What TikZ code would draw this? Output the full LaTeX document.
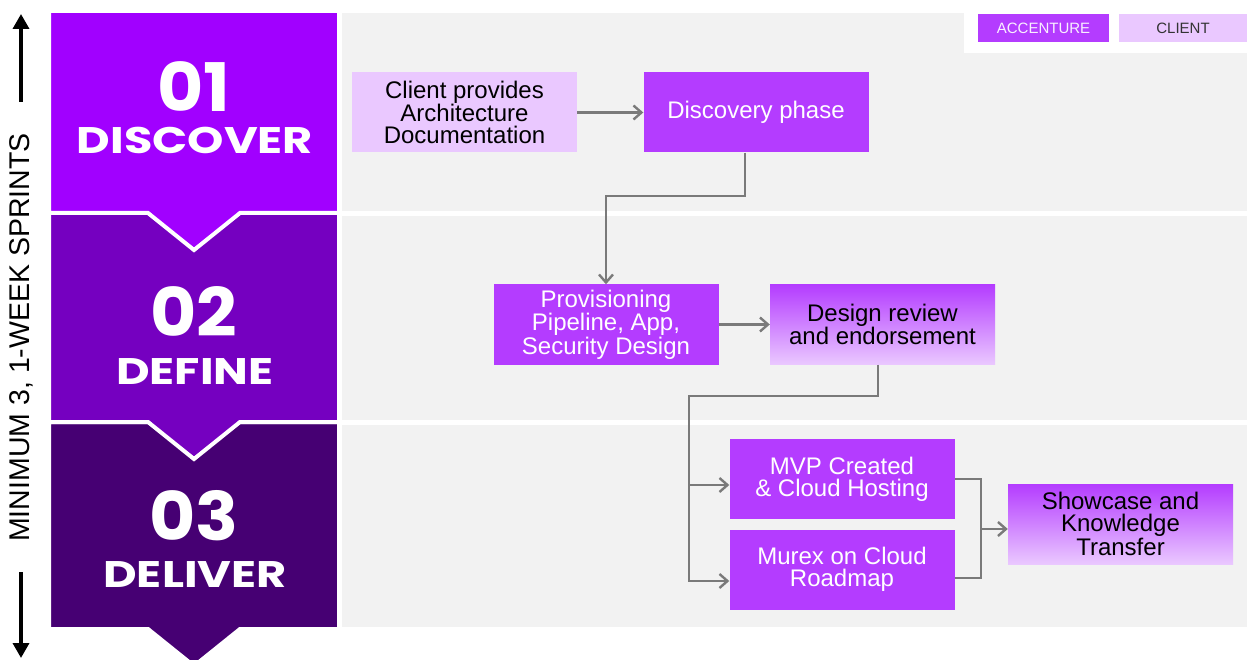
\documentclass[tikz,border=0pt]{standalone}
\usepackage{graphicx}
\usepackage{fontspec}
\setmainfont{Liberation Sans}
\newfontfamily\phasefont{Poppins}
\usetikzlibrary{arrows.meta}

\definecolor{discpurple}{HTML}{A100FF}
\definecolor{defpurple}{HTML}{7500C0}
\definecolor{delpurple}{HTML}{460073}
\definecolor{accpurple}{HTML}{B43CFF}
\definecolor{clientlilac}{HTML}{EAC8FF}
\definecolor{panelgray}{HTML}{F2F2F2}
\definecolor{linkgray}{HTML}{7A7A7A}

\tikzset{
  flowbox/.style={minimum width=225pt, minimum height=80pt, inner sep=0pt, align=center,
    font=\fontsize{24}{22}\selectfont},
  accbox/.style={flowbox, fill=accpurple, text=white},
  clientbox/.style={flowbox, fill=clientlilac, text=black},
  fadebox/.style={flowbox, top color=accpurple, bottom color=clientlilac, text=black},
  legendbox/.style={minimum height=28pt, inner sep=0pt, font=\fontsize{15}{15}\selectfont},
  plainlink/.style={draw=linkgray, line width=2.4pt},
  link/.style={plainlink, -{Straight Barb[length=8pt,width=14pt]}},
  sprintarrow/.style={line width=3.5pt, -{Triangle[length=15pt,width=16pt]}},
}

\begin{document}
\begin{tikzpicture}[x=1pt,y=-1pt]
\useasboundingbox (0,0) rectangle (1247,660);
% grey lanes
\foreach \ytop/\ybot in {13/211, 216/420, 425/627}
  \fill[panelgray] (342,\ytop) rectangle (1247,\ybot);
\fill[white] (964,0) rectangle (1247,53);
\node[legendbox, minimum width=131pt, fill=accpurple, text=white!92!accpurple] (legacc) at (1043.5,28) {ACCENTURE};
\node[legendbox, minimum width=128pt, fill=clientlilac, text=black!80] (legcli) at (1183,28) {CLIENT};

% phase chevrons, drawn from the bottom up
\foreach \ytop/\ybot/\col/\pnum/\pname/\ny/\nmy in {422/629/delpurple/03/DELIVER/517/575,
    213/422/defpurple/02/DEFINE/313/371.5, 11/213/discpurple/01/DISCOVER/88/140} {
  \filldraw[fill=\col, draw=white, line width=4pt]
    (49,\ytop) -- (339,\ytop) -- (339,\ybot) -- (240,\ybot) -- (194,{\ybot+37}) -- (148,\ybot) -- (49,\ybot) -- cycle;
  \node[text=white, inner sep=0pt, text height=47pt, text depth=0pt,
    font=\phasefont\bfseries\fontsize{67}{67}\selectfont] (num-\pnum) at (194,\ny) {\scalebox{1.06}[1]{\pnum}};
  \node[text=white, inner sep=0pt, font=\phasefont\bfseries\fontsize{37}{37}\selectfont] (name-\pnum) at (195,\nmy) {\scalebox{1.25}[1]{\pname}};
}

\coordinate (uptip) at (21,14);
\coordinate (upfoot) at (21,102);
\coordinate (downfoot) at (21,572);
\coordinate (downtip) at (21,658);
\draw[sprintarrow] (upfoot) -- (uptip);
\draw[sprintarrow] (downfoot) -- (downtip);
\node[rotate=90, inner sep=0pt, font=\fontsize{28.5}{28.5}\selectfont] (sprints) at (21.5,337.5) {MINIMUM 3, 1-WEEK SPRINTS};

% flow
\node[clientbox] (client) at (464.5,112.5) {Client provides\\Architecture\\Documentation};
\node[accbox] (disc) at (756,112.5) {Discovery phase};
\node[accbox] (prov) at (606,324.5) {Provisioning\\Pipeline, App,\\Security Design};
\node[fadebox] (design) at (882.5,324.5) {Design review\\and endorsement};
\node[accbox] (mvp) at (842,479) {MVP Created\\\& Cloud Hosting};
\node[accbox] (murex) at (842,569.5) {Murex on Cloud\\Roadmap};
\node[fadebox] (show) at (1120.5,524) {Showcase and\\Knowledge\\Transfer};

\coordinate (bend1) at (606,196);
\coordinate (split) at (689,396);
\coordinate (mvpin) at ([yshift=-6pt]mvp.west);
\coordinate (merge) at (981,529);
\draw[link] (client) -- (disc);
\draw[link] ([xshift=-11pt]disc.south) |- (bend1) -- (prov.north);
\draw[link] (prov) -- (design);
\draw[link] ([xshift=-4.5pt]design.south) |- (split) |- ([yshift=-11.5pt]murex.west);
\draw[link] (split |- mvpin) -- (mvpin);
\draw[plainlink] (mvp.east) -| (merge);
\draw[plainlink] ([yshift=-8.5pt]murex.east) -| (merge);
\draw[link] (merge) -- (merge -| show.west);
\end{tikzpicture}
\end{document}
